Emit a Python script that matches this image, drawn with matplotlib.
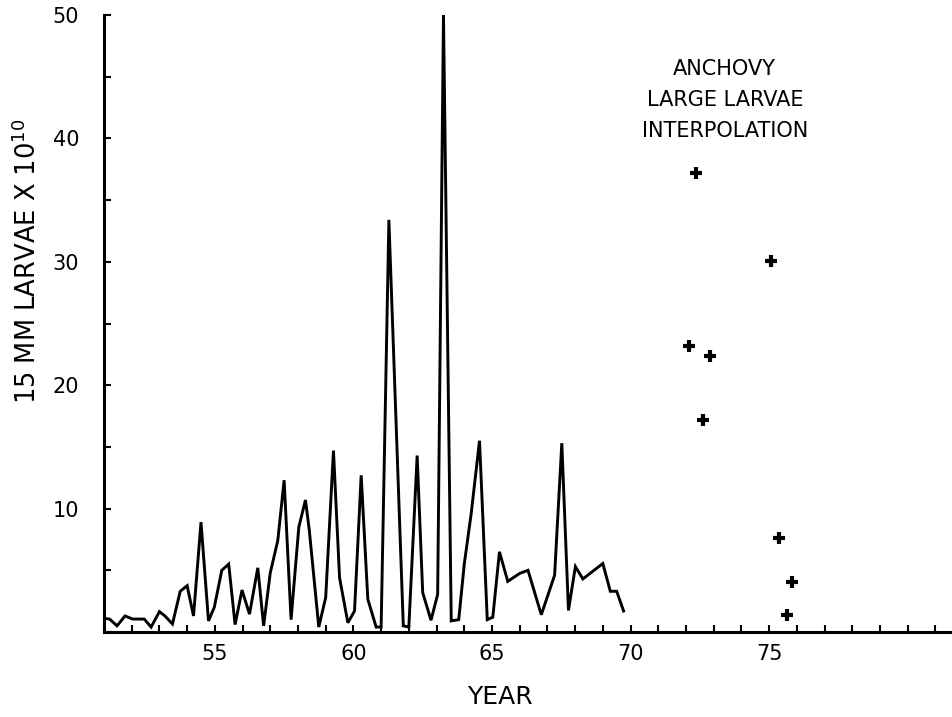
import matplotlib
matplotlib.use("Agg")
import matplotlib.pyplot as plt
from matplotlib.ticker import MultipleLocator, FixedLocator

# Line series: year vs 15 mm larvae (x 10^10)
years = [51.0, 51.2, 51.47, 51.76, 52.03, 52.45, 52.7, 53.0, 53.2, 53.47,
         53.75, 54.0, 54.23, 54.5, 54.77, 54.98, 55.25, 55.5, 55.73, 55.98,
         56.25, 56.55, 56.76, 57.0, 57.27, 57.5, 57.75, 58.03, 58.27, 58.41,
         58.75, 59.0, 59.28, 59.5, 59.8, 60.04, 60.28, 60.52, 60.82, 61.0,
         61.28, 61.8, 62.0, 62.3, 62.5, 62.8, 63.04, 63.25, 63.53, 63.8,
         64.0, 64.25, 64.55, 64.83, 65.03, 65.27, 65.57, 66.0, 66.3, 66.78,
         67.26, 67.52, 67.76, 68.01, 68.28, 69.0, 69.27, 69.5, 69.75]
larvae = [1.1, 1.05, 0.5, 1.3, 1.05, 1.05, 0.4, 1.65, 1.3, 0.65,
          3.3, 3.75, 1.3, 8.9, 0.9, 2.0, 5.0, 5.5, 0.6, 3.4,
          1.45, 5.2, 0.5, 4.8, 7.4, 12.3, 1.0, 8.5, 10.7, 8.2,
          0.4, 2.8, 14.7, 4.4, 0.75, 1.7, 12.7, 2.65, 0.4, 0.4,
          33.4, 0.5, 0.4, 14.3, 3.2, 0.95, 3.05, 50.0, 0.9, 1.0,
          5.5, 9.6, 15.5, 1.0, 1.2, 6.5, 4.1, 4.75, 5.0, 1.4,
          4.6, 15.3, 1.75, 5.3, 4.3, 5.55, 3.3, 3.3, 1.7]

# Interpolation points
interp_years = [72.37, 75.08, 72.1, 72.88, 72.62, 75.35, 75.84, 75.64]
interp_vals = [37.2, 30.1, 23.2, 22.4, 17.2, 7.6, 4.07, 1.4]

xtick_labels = [55, 60, 65, 70, 75]
ytick_labels = [10, 20, 30, 40, 50]

W, H = 952, 717
fig = plt.figure(figsize=(W / 100, H / 100), dpi=100)
ax = fig.add_axes([104 / W, (H - 632) / H, (W - 104) / W, (632 - 15) / H])

ax.plot(years, larvae, color="black", lw=2.1, solid_joinstyle="miter")
ax.plot(interp_years, interp_vals, linestyle="none", marker="+",
        color="black", ms=9, mew=3)

ax.set_xlim(51.0, 81.6)
ax.set_ylim(0, 50)

ax.spines["top"].set_visible(False)
ax.spines["right"].set_visible(False)
for s in ("left", "bottom"):
    ax.spines[s].set_linewidth(2.2)

ax.xaxis.set_major_locator(FixedLocator(xtick_labels))
ax.xaxis.set_minor_locator(MultipleLocator(1))
ax.yaxis.set_major_locator(FixedLocator(ytick_labels))
ax.yaxis.set_minor_locator(MultipleLocator(5))

ax.tick_params(axis="x", which="both", direction="in", length=5, width=1.5,
               labelsize=15, pad=9)
ax.tick_params(axis="y", which="both", direction="in", length=5, width=1.5,
               labelsize=15, pad=18)

fig.text(28 / W, 1 - 261 / H, r"15 MM LARVAE X 10$^{10}$", rotation=90,
         ha="center", va="center", fontsize=18.5)
fig.text(500 / W, 1 - 697 / H, "YEAR", ha="center", va="center", fontsize=18)

ax.text(73.4, 45.6, "ANCHOVY", ha="center", va="center", fontsize=15)
ax.text(73.4, 43.1, "LARGE LARVAE", ha="center", va="center", fontsize=15)
ax.text(73.4, 40.6, "INTERPOLATION", ha="center", va="center", fontsize=15)

fig.savefig("out.png", dpi=100)
